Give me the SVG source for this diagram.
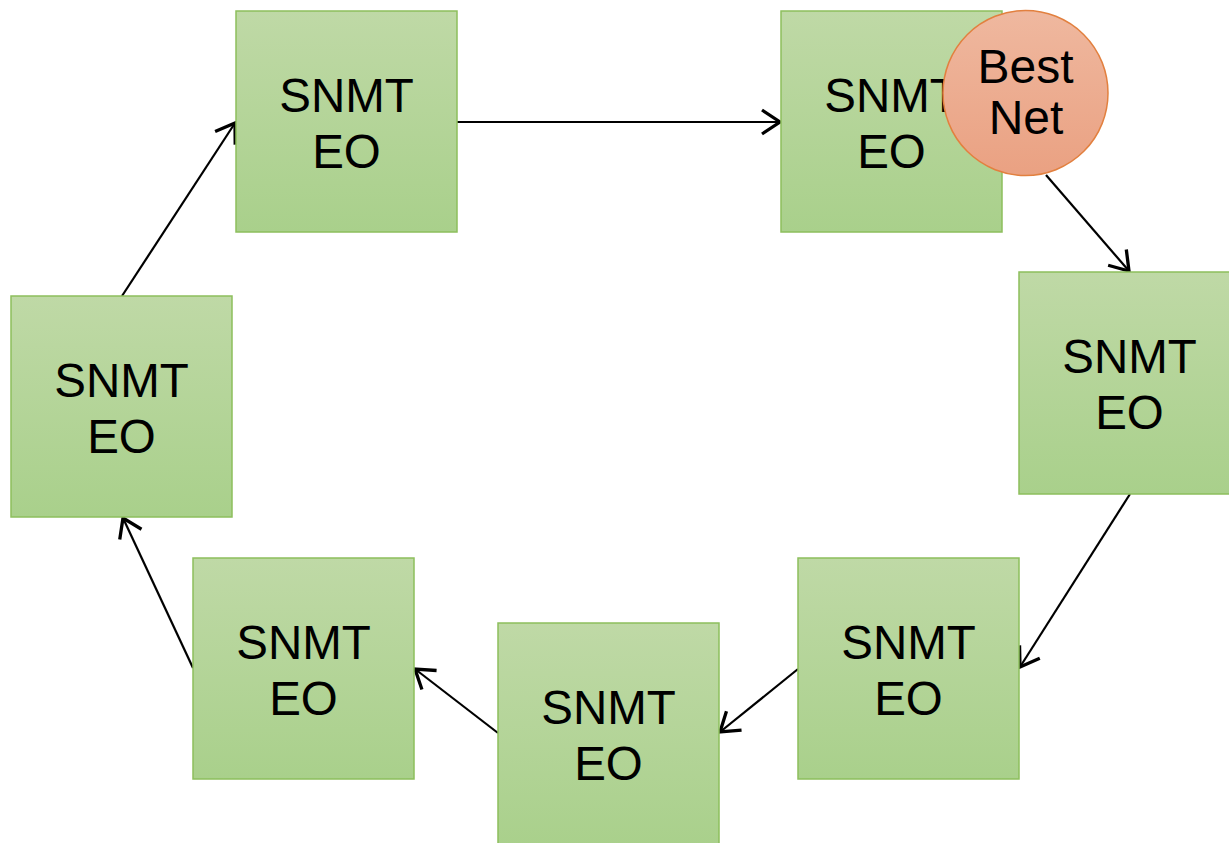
<svg xmlns="http://www.w3.org/2000/svg" width="1229" height="843" viewBox="0 0 1229 843">
  <defs>
    <linearGradient id="boxFill" x1="0" y1="0" x2="0" y2="1">
      <stop offset="0" stop-color="#bfd9a6"/>
      <stop offset="1" stop-color="#a9d08b"/>
    </linearGradient>
    <linearGradient id="bestFill" x1="0" y1="0" x2="0" y2="1">
      <stop offset="0" stop-color="#efb89f"/>
      <stop offset="1" stop-color="#eaa182"/>
    </linearGradient>
    <marker id="arrow" markerUnits="userSpaceOnUse" markerWidth="30" markerHeight="30" refX="14" refY="10" orient="auto" viewBox="0 0 16 20">
      <path d="M2,2 L14,10 L2,18" fill="none" stroke="#000" stroke-width="2.2"/>
    </marker>
  </defs>
  <style>
    .box { fill: url(#boxFill); stroke: #8dbf5c; stroke-width: 1.5; }
    .lbl { font-family: "Liberation Sans", Arial, sans-serif; font-size: 47.5px; fill: #000; text-anchor: middle; }
    .best { fill: url(#bestFill); stroke: #e2803f; stroke-width: 1.5; }
    .best-lbl { font-family: "Liberation Sans", Arial, sans-serif; font-size: 48px; fill: #000; text-anchor: middle; }
    .link { stroke: #000; stroke-width: 2.2; fill: none; marker-end: url(#arrow); }
  </style>
  <rect width="1229" height="843" fill="#ffffff"/>

  <g id="connectors">
    <line class="link" x1="457" y1="122" x2="780" y2="122"/>
    <line class="link" x1="1046" y1="175" x2="1129" y2="271"/>
    <line class="link" x1="1130" y1="494" x2="1020" y2="667"/>
    <line class="link" x1="798" y1="669" x2="720" y2="732"/>
    <line class="link" x1="498" y1="733" x2="415" y2="669"/>
    <line class="link" x1="193" y1="668" x2="123" y2="518"/>
    <line class="link" x1="122" y1="296" x2="235" y2="123"/>
  </g>

  <g id="node-top-left">
    <rect class="box" x="236" y="11" width="221" height="221"/>
    <text class="lbl" x="346.5" y="112">SNMT</text>
    <text class="lbl" x="346.5" y="168">EO</text>
  </g>
  <g id="node-top-right">
    <rect class="box" x="781" y="11" width="221" height="221"/>
    <text class="lbl" x="891.5" y="112">SNMT</text>
    <text class="lbl" x="891.5" y="168">EO</text>
  </g>
  <g id="node-right">
    <rect class="box" x="1019" y="272" width="221" height="222"/>
    <text class="lbl" x="1129.5" y="373">SNMT</text>
    <text class="lbl" x="1129.5" y="429">EO</text>
  </g>
  <g id="node-bottom-right">
    <rect class="box" x="798" y="558" width="221" height="221"/>
    <text class="lbl" x="908.5" y="659">SNMT</text>
    <text class="lbl" x="908.5" y="715">EO</text>
  </g>
  <g id="node-bottom-middle">
    <rect class="box" x="498" y="623" width="221" height="225"/>
    <text class="lbl" x="608.5" y="724">SNMT</text>
    <text class="lbl" x="608.5" y="780">EO</text>
  </g>
  <g id="node-bottom-left">
    <rect class="box" x="193" y="558" width="221" height="221"/>
    <text class="lbl" x="303.5" y="659">SNMT</text>
    <text class="lbl" x="303.5" y="715">EO</text>
  </g>
  <g id="node-left">
    <rect class="box" x="11" y="296" width="221" height="221"/>
    <text class="lbl" x="121.5" y="397">SNMT</text>
    <text class="lbl" x="121.5" y="453">EO</text>
  </g>
  <g id="node-best-net">
    <circle class="best" cx="1025.5" cy="93" r="82.5"/>
    <text class="best-lbl" x="1025.5" y="83">Best</text>
    <text class="best-lbl" x="1026" y="134">Net</text>
  </g>
</svg>
